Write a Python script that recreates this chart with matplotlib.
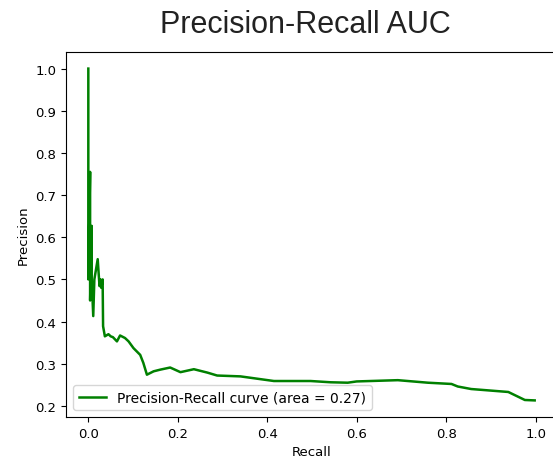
import matplotlib.pyplot as plt

# values
recall = [0.0, 0.0, 0.004, 0.004, 0.0076, 0.0076, 0.011, 0.0135, 0.021, 0.025,
          0.027, 0.029, 0.032, 0.033, 0.037, 0.045, 0.050, 0.055, 0.064, 0.071,
          0.082, 0.090, 0.101, 0.116, 0.123, 0.131, 0.146, 0.161, 0.183, 0.206,
          0.236, 0.266, 0.288, 0.340, 0.415, 0.497, 0.542, 0.580, 0.600, 0.692,
          0.759, 0.812, 0.826, 0.856, 0.939, 0.976, 0.998]
precision = [1.0, 0.5, 0.755, 0.45, 0.627, 0.50, 0.413, 0.50, 0.548, 0.484,
             0.50, 0.48, 0.50, 0.389, 0.365, 0.370, 0.365, 0.363, 0.353, 0.367,
             0.361, 0.353, 0.337, 0.321, 0.302, 0.274, 0.282, 0.286, 0.291, 0.280,
             0.287, 0.279, 0.272, 0.270, 0.259, 0.259, 0.256, 0.255, 0.258, 0.261,
             0.255, 0.252, 0.246, 0.240, 0.233, 0.214, 0.213]
pr_auc = 0.27

fig = plt.figure(figsize=(5.53, 4.60), dpi=100)
ax = fig.add_axes([66 / 553, 42 / 460, 491 / 553, 365 / 460])

ax.plot(recall, precision, color="green", lw=1.8,
        label=f"Precision-Recall curve (area = {pr_auc:.2f})")
ax.set_xlabel("Recall", fontsize=9.5)
ax.set_ylabel("Precision", fontsize=9.5)
ax.tick_params(labelsize=9.5)
ax.legend(loc="lower left", fontsize=10)

fig.text(305 / 553, 1 - 25 / 460, "Precision-Recall AUC", fontsize=22,
         family="Liberation Sans", ha="center", va="center", color="#222222")

fig.savefig("out.png", dpi=100)
